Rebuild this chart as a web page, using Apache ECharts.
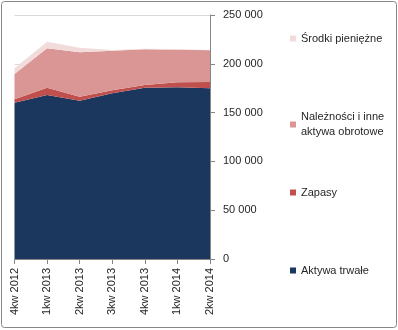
<!DOCTYPE html>
<html><head><meta charset="utf-8">
<script src="https://cdn.jsdelivr.net/npm/echarts@6/dist/echarts.min.js"></script>
<style>html,body{margin:0;padding:0;background:#fff}#c{width:398px;height:330px}</style>
</head><body><div id="c"></div>
<script>
const categories = ['4kw 2012','1kw 2013','2kw 2013','3kw 2013','4kw 2013','1kw 2014','2kw 2014'];
const aktywaTrwale = [160100, 168000, 162200, 169800, 175500, 176000, 174900];
const zapasy = [3500, 7500, 4100, 3200, 2800, 5000, 6500];
const naleznosci = [26000, 40400, 45500, 40400, 36500, 33500, 32400];
const srodki = [5800, 6700, 4700, 800, 600, 600, 600];
const names = ['Aktywa trwałe','Zapasy','Należności i inne aktywa obrotowe','Środki pieniężne'];
const colors = ['#1c375e','#c0504d','#d99694','#f2dcdb'];
const font = 'Liberation Sans';
const chart = echarts.init(document.getElementById('c'));
function mk(i, data){
  return {name:names[i], type:'line', stack:'s', data:data, symbol:'none', showSymbol:false,
    lineStyle:{width:0}, areaStyle:{color:colors[i], opacity:1}, itemStyle:{color:colors[i]}, emphasis:{disabled:true}};
}
function lg(i, top, extra){
  return Object.assign({data:[names[i]], left:285, top:top, orient:'vertical', icon:'rect', itemWidth:6, itemHeight:6,
    textStyle:{fontFamily:font, fontSize:11, color:'#262626'}, selectedMode:false}, extra||{});
}
chart.setOption({
  animation:false,
  grid:{left:14.5, right:188, top:15, bottom:71},
  xAxis:{type:'category', data:categories, boundaryGap:false,
    axisLine:{lineStyle:{color:'#868686'}}, axisTick:{show:true, length:5, interval:0, lineStyle:{color:'#868686'}},
    axisLabel:{rotate:90, interval:0, margin:9, fontFamily:font, fontSize:11, color:'#262626'}},
  yAxis:{type:'value', position:'right', min:0, max:250000, interval:50000,
    axisLine:{show:true, lineStyle:{color:'#868686'}}, axisTick:{show:true, length:5, lineStyle:{color:'#868686'}},
    splitLine:{lineStyle:{color:'#d9d9d9'}},
    axisLabel:{margin:13, fontFamily:font, fontSize:11, color:'#262626',
      formatter:v => v===0 ? '0' : String(v).replace(/\B(?=(\d{3})+(?!\d))/g,' ')}},
  legend:[
    lg(3, 28),
    lg(2, 97, {formatter:()=> 'Należności i inne\naktywa obrotowe', textStyle:{fontFamily:font, fontSize:11, color:'#262626', lineHeight:15, padding:[15,0,0,0]}}),
    lg(1, 182),
    lg(0, 260)
  ],
  graphic:[{type:'rect', shape:{x:1.5, y:1.5, width:395, height:326, r:3}, style:{fill:'none', stroke:'#868686', lineWidth:1}, silent:true}],
  series:[mk(0, aktywaTrwale), mk(1, zapasy), mk(2, naleznosci), mk(3, srodki)]
});
</script></body></html>
